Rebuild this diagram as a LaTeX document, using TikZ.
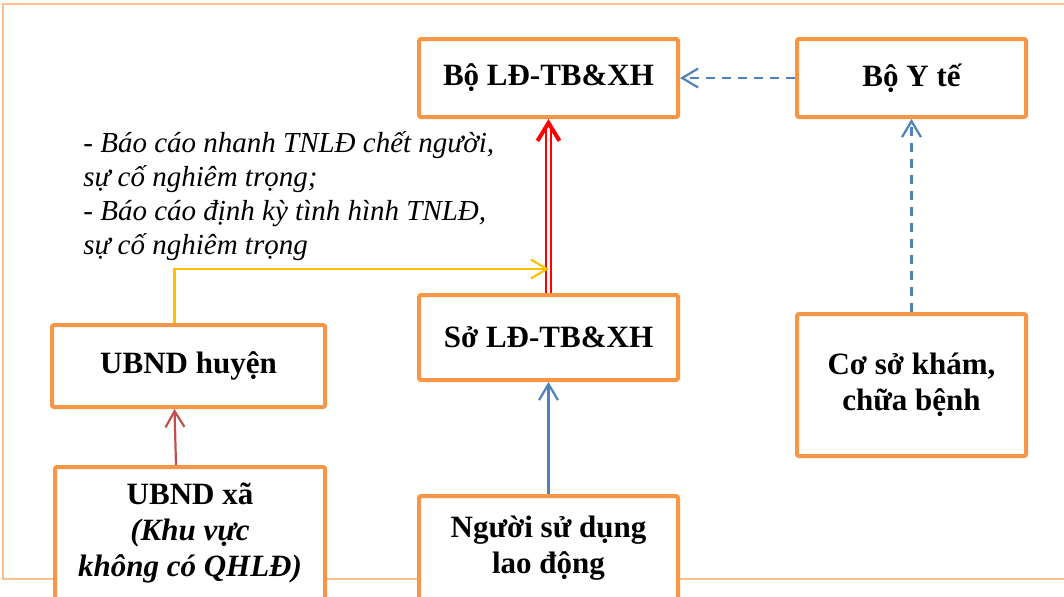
\documentclass[tikz,border=0pt]{standalone}
\usepackage{fontspec}
\setmainfont{Liberation Serif}
\usetikzlibrary{arrows.meta}
\definecolor{boxorange}{HTML}{F79646}
\definecolor{frameorange}{HTML}{FAC090}
\definecolor{arrowyellow}{HTML}{FFC000}
\definecolor{arrowblue}{HTML}{4F81BD}
\definecolor{arrowbrown}{HTML}{C0504D}

\tikzset{
    orgbox/.style={draw=boxorange, line width=2pt, fill=white, rounded corners=1pt,
        align=center, font=\fontsize{15.5}{18}\selectfont\bfseries, inner sep=2pt},
    thinarrow/.style={line width=1.1pt, -{Straight Barb[length=8pt,width=9.5pt,line width=1.1pt]}}
}

\begin{document}
\begin{tikzpicture}[
            x=0.5pt, y=-0.5pt
        ]
            \useasboundingbox (0,0) rectangle (1064,596);
            \clip (0,0) rectangle (1064,596);

            % frame of the slide
            \draw [frameorange, line width=0.6pt] (1070,4) -- (3,4) -- (3,579) -- (1070,579);

            % boxes
            \node [orgbox, minimum width=129.5pt, minimum height=39pt] (boLD) at (548.5,78) {Bộ LĐ-TB\&XH};
            \node [orgbox, minimum width=114.5pt, minimum height=39pt] (boYte) at (911.5,78) {Bộ Y tế};
            \node [orgbox, minimum width=129.5pt, minimum height=42.5pt] (soLD) at (548.5,337.5) {Sở LĐ-TB\&XH};
            \node [orgbox, minimum width=136.5pt, minimum height=41pt] (huyen) at (188.5,366) {UBND huyện};
            \node [orgbox, minimum width=114.5pt, minimum height=71pt] (coso) at (911.5,385) {Cơ sở khám,\\chữa bệnh};
            \node [orgbox, minimum width=135pt, minimum height=66pt] (xa) at (190,533) {UBND xã\\\textit{(Khu vực}\\\textit{không có QHLĐ)}};
            \node [orgbox, minimum width=129.5pt, minimum height=52pt] (nguoi) at (548.5,548) {Người sử dụng\\lao động};

            % report note
            \node [anchor=west, align=left, font=\fontsize{14.5}{17}\selectfont\itshape, inner sep=0pt] (note) at (83,196)
                {- Báo cáo nhanh TNLĐ chết người,\\sự cố nghiêm trọng;\\- Báo cáo định kỳ tình hình TNLĐ,\\sự cố nghiêm trọng};

            \coordinate (merge) at (549,269);

            % connectors
            \draw [red, line width=1pt, double=white, double distance=1.4pt,
                -{Straight Barb[length=9pt,width=11pt,line width=2pt]}] (soLD.north) -- (boLD.south);
            \draw [arrowyellow, thinarrow] ([xshift=-7pt]huyen.north) |- (merge);
            \draw [arrowblue, thinarrow] (nguoi.north) -- (soLD.south);
            \draw [arrowblue, thinarrow, dash pattern=on 4.5pt off 3.5pt] (coso.north) -- (boYte.south);
            \draw [arrowblue, thinarrow, dash pattern=on 4.5pt off 3.5pt] (boYte.west) -- (boLD.east);
            \draw [arrowbrown, thinarrow] ([xshift=-7pt]xa.north) -- ([xshift=-7pt]huyen.south);
        \end{tikzpicture}
\end{document}
